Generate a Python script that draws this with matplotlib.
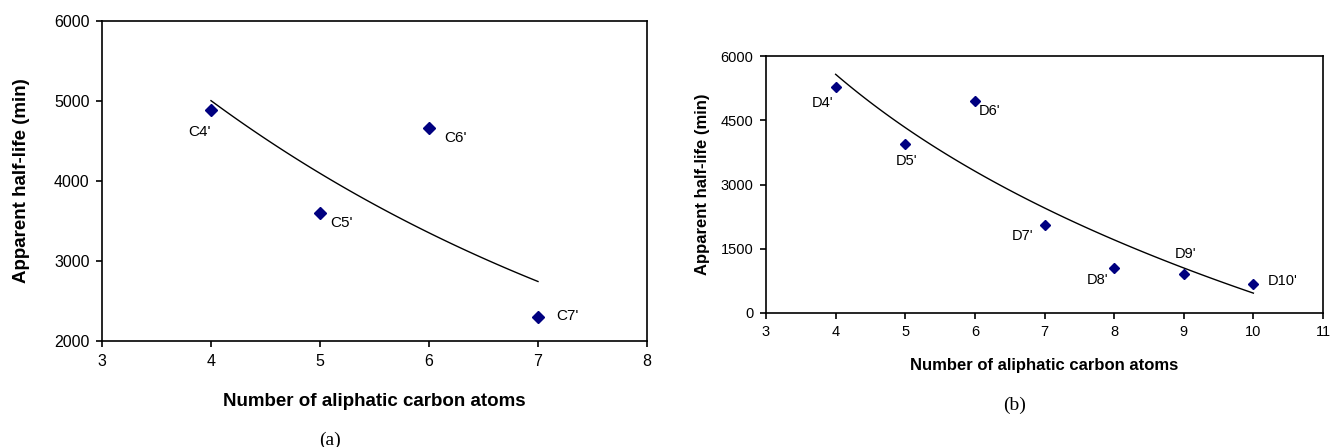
import numpy as np
import matplotlib.pyplot as plt

# panel (a): C-series compounds
c_atoms = np.array([4, 5, 6, 7], float)
c_halflife = np.array([4885, 3600, 4665, 2298], float)
c_names = ["C4'", "C5'", "C6'", "C7'"]

# panel (b): D-series compounds
d_atoms = np.array([4, 5, 6, 7, 8, 9, 10], float)
d_halflife = np.array([5276, 3945, 4957, 2054, 1051, 920, 686], float)
d_names = ["D4'", "D5'", "D6'", "D7'", "D8'", "D9'", "D10'"]

# where each label sits relative to its point (pixels, x right / y down)
c_offsets = [(-11, 22), (22, 10), (27, 10), (29, -1)]
d_offsets = [(-13, 16), (1, 17), (15, 10), (-22, 11), (-17, 12), (2, -20), (29, -3)]

sans = ['Liberation Sans', 'DejaVu Sans']
serif = ['Liberation Serif', 'DejaVu Serif']
navy = '#000080'

fig = plt.figure(figsize=(13.3, 4.47), dpi=100)
ax1 = fig.add_axes([102/1330, 1-341/447, 545/1330, 320/447])
ax2 = fig.add_axes([766/1330, 1-313/447, 557/1330, 257/447])


def style_axes(ax, xticks, yticks, tick_size, label_size, lab_pad_x, lab_pad_y):
    ax.set_xticks(xticks)
    ax.set_yticks(yticks)
    ax.set_xlim(xticks[0], xticks[-1])
    ax.set_ylim(yticks[0], yticks[-1])
    ax.tick_params(direction='out', length=4, width=1.2, pad=5, labelsize=tick_size)
    for lab in ax.get_xticklabels() + ax.get_yticklabels():
        lab.set_family(sans)
    for sp in ax.spines.values():
        sp.set_linewidth(1.2)
    ax.set_xlabel("Number of aliphatic carbon atoms", family=sans, fontweight='bold',
                  fontsize=label_size, labelpad=lab_pad_x)
    ax.set_ylabel("Apparent half-life (min)", family=sans, fontweight='bold',
                  fontsize=label_size, labelpad=lab_pad_y)


# (a) exponential trend
coef_a = np.polyfit(c_atoms, np.log(c_halflife), 1)
xa = np.linspace(c_atoms[0], c_atoms[-1], 100)
ax1.plot(xa, np.exp(np.polyval(coef_a, xa)), color='black', lw=1.0)
ax1.plot(c_atoms, c_halflife, 'D', color=navy, ms=6, ls='none')
for x, y, name, (dx, dy) in zip(c_atoms, c_halflife, c_names, c_offsets):
    ax1.annotate(name, (x, y), xytext=(dx, -dy), textcoords='offset pixels',
                 ha='center', va='center', fontsize=11, family=sans)
style_axes(ax1, [3, 4, 5, 6, 7, 8], [2000, 3000, 4000, 5000, 6000], 11.5, 13.5, 18, 17)

# (b) logarithmic trend
coef_b = np.polyfit(np.log(d_atoms), d_halflife, 1)
xb = np.linspace(d_atoms[0], d_atoms[-1], 100)
ax2.plot(xb, np.polyval(coef_b, np.log(xb)), color='black', lw=1.0)
ax2.plot(d_atoms, d_halflife, 'D', color=navy, ms=5.5, ls='none')
for x, y, name, (dx, dy) in zip(d_atoms, d_halflife, d_names, d_offsets):
    ax2.annotate(name, (x, y), xytext=(dx, -dy), textcoords='offset pixels',
                 ha='center', va='center', fontsize=10.5, family=sans)
style_axes(ax2, [3, 4, 5, 6, 7, 8, 9, 10, 11], [0, 1500, 3000, 4500, 6000], 10.5, 12, 13, 8)

fig.text(330/1330, 1-440/447, "(a)", family=serif, fontsize=14, ha='center', va='center')
fig.text(1015/1330, 1-405/447, "(b)", family=serif, fontsize=14, ha='center', va='center')

fig.savefig("out.png", dpi=100)
